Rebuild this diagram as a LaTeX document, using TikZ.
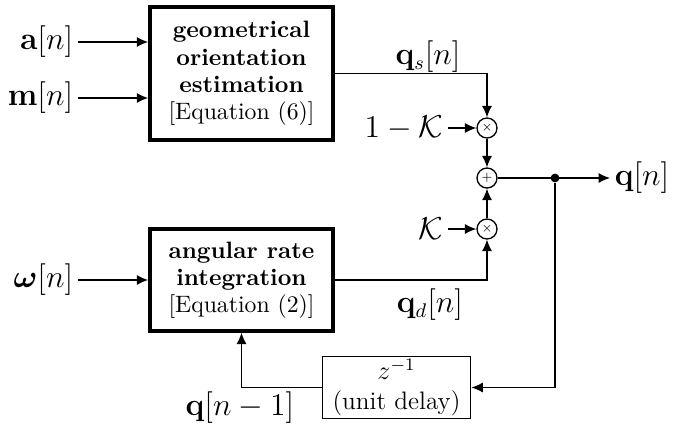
\documentclass[tikz,border=0pt]{standalone}
\usepackage{amsmath}
\usetikzlibrary{arrows.meta,positioning,calc}

\begin{document}
\begin{tikzpicture}[
    x=0.016cm, y=-0.016cm,
    block/.style={rectangle, draw, line width=1.6pt, minimum width=#1, align=center, font=\fontsize{10.8}{12.4}\selectfont, inner sep=2pt},
    delaybox/.style={rectangle, draw, line width=0.5pt, minimum width=2.38cm, minimum height=0.98cm, align=center, inner sep=1pt, font=\fontsize{11.5}{13.5}\selectfont},
    op/.style={circle, draw, line width=0.6pt, minimum size=0.32cm, inner sep=0pt, font=\tiny},
    sig/.style={font=\fontsize{13.5}{16}\selectfont, inner sep=2pt},
    arr/.style={-{Latex[length=5.2pt,width=4.6pt]}, line width=0.6pt},
    dot/.style={circle, fill, inner sep=0pt, minimum size=4pt}
]
\useasboundingbox (0,0) rectangle (699,426);

% Blocks
\node[block=2.93cm, minimum height=2.13cm] (geo) at (241.5,73.5) {\textbf{geometrical}\\\textbf{orientation}\\\textbf{estimation}\\{}[Equation (6)]};
\node[block=2.93cm, minimum height=1.63cm] (ang) at (241.5,280) {\textbf{angular rate}\\\textbf{integration}\\{}[Equation (2)]};
\node[delaybox] (delay) at (396.5,387.5) {$z^{-1}$\\(unit delay)};

% Operators
\node[op] (mul1) at (487,128) {$\times$};
\node[op] (sum) at (487,178) {$+$};
\node[op] (mul2) at (487,229) {$\times$};
\node[dot] (split) at (555,178) {};

% Signals
\node[sig, anchor=east] (acc) at (78,42) {$\mathbf{a}[n]$};
\node[sig, anchor=east] (mag) at (78,98) {$\mathbf{m}[n]$};
\node[sig, anchor=east] (gyr) at (78,280) {$\boldsymbol{\omega}[n]$};
\node[sig, anchor=east] (gain1) at (448,128) {$1-\mathcal{K}$};
\node[sig, anchor=east] (gain2) at (448,229) {$\mathcal{K}$};
\node[sig, anchor=west] (qout) at (610,178) {$\mathbf{q}[n]$};
\node[sig] (qs) at (428,57) {$\mathbf{q}_s[n]$};
\node[sig] (qd) at (430,305) {$\mathbf{q}_d[n]$};
\node[sig] (qprev) at (240,408) {$\mathbf{q}[n-1]$};

% Arrows
\draw[arr] (acc) -- (acc -| geo.west);
\draw[arr] (mag) -- (mag -| geo.west);
\draw[arr] (gyr) -- (gyr -| ang.west);
\draw[arr] (gain1) -- (mul1);
\draw[arr] (gain2) -- (mul2);
\draw[arr] (geo.east) -| (mul1.north);
\draw[arr] (ang.east) -| (mul2.south);
\draw[arr] (mul1) -- (sum);
\draw[arr] (mul2) -- (sum);
\draw[arr] (sum) -- (qout);
\draw[arr] (split) |- (delay.east);
\draw[arr] (delay.west) -| (ang.south);
\end{tikzpicture}
\end{document}
